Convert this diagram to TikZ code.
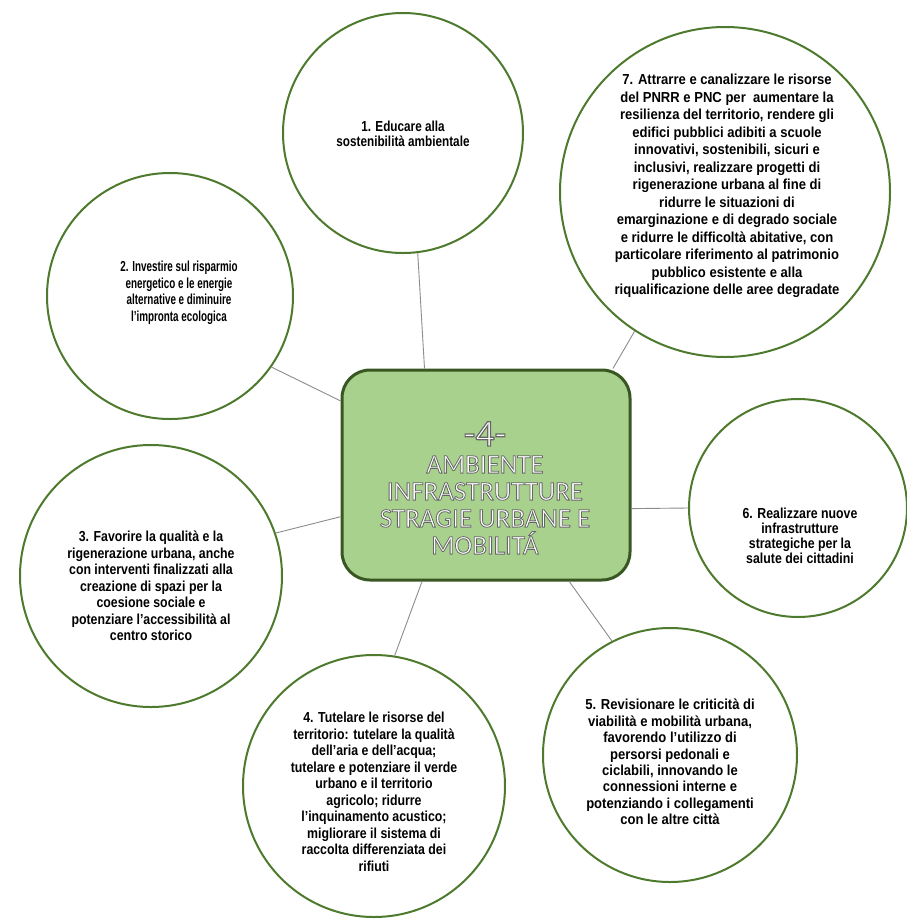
\documentclass[tikz,border=0pt]{standalone}
\usepackage{fontspec}
\setmainfont{Liberation Sans}
\newfontfamily\fontA[FakeStretch=0.68]{Liberation Sans}
\newfontfamily\fontB[FakeStretch=0.81]{Liberation Sans}
\newfontfamily\fontC[FakeStretch=0.85]{Liberation Sans}
\newfontfamily\fontD[FakeStretch=0.9]{Liberation Sans}
\newfontfamily\hubfont[FakeBold=3]{Carlito}
\definecolor{ringgreen}{HTML}{4E7A2E}
\definecolor{hubfill}{HTML}{A9D18E}
\definecolor{hubborder}{HTML}{385723}
\definecolor{linkgrey}{HTML}{8C8C8C}
\newcommand{\hubtxt}[1]{\special{pdf:literal direct 0.40 0.40 0.40 RG}#1}
\tikzset{
  ring/.style={circle, draw=ringgreen, line width=2pt, fill=white, inner sep=0pt},
  ringtext/.style={align=center, text=black, inner sep=0pt},
  link/.style={draw=linkgrey, line width=0.9pt},
  hub/.style={rounded corners=28pt, draw=hubborder, line width=3pt, fill=hubfill,
    minimum width=288pt, minimum height=210pt, inner sep=0pt},
  hubtitle/.style={align=center, text=white, inner sep=0pt,
    font=\hubfont\fontsize{27}{27}\selectfont}
}
\begin{document}
\begin{tikzpicture}[x=1pt,y=-1pt]
\useasboundingbox (0,0) rectangle (906,922);
\fill[white] (0,0) rectangle (906,922);

% circles
\node[ring, minimum size=240pt] (c1) at (403,133) {};
\node[ring, minimum size=246pt] (c2) at (170,296) {};
\node[ring, minimum size=262pt] (c3) at (151,576) {};
\node[ring, minimum size=262pt] (c4) at (374,786) {};
\node[ring, minimum size=254pt] (c5) at (670,755) {};
\node[ring, minimum size=218pt] (c6) at (798,508) {};
\node[ring, minimum size=330pt] (c7) at (725,192) {};

% central box
\node[hub] (hub) at (486,475) {};
\node[hubtitle] (title) at (485,488) {\hubtxt{{\fontsize{38}{33}\selectfont -4-}\\AMBIENTE\\INFRASTRUTTURE\\STRAGIE URBANE E\\MOBILITÁ}};

% connectors
\draw[link] (c1.277) -- (hub.120);
\draw[link] (c2.325) -- (hub.153);
\draw[link] (c3.19) -- (hub.196);
\draw[link] (c4.81) -- (hub.239);
\draw[link] (c5.117) -- (hub.308.7);
\draw[link] (c6.180) -- (hub.347.5);
\draw[link] (c7.237.5) -- (hub.40.3);

% texts
\node[ringtext, font=\fontB\bfseries\fontsize{14.5}{15.5}\selectfont] (t1) at (403,134)
  {1. Educare alla\\sostenibilità ambientale};
\node[ringtext, font=\fontA\bfseries\fontsize{14.5}{16.5}\selectfont] (t2) at (179,293)
  {2. Investire sul risparmio\\energetico e le energie\\alternative e diminuire\\l’impronta ecologica};
\node[ringtext, font=\fontC\bfseries\fontsize{14.5}{16.5}\selectfont] (t3) at (151,586)
  {3. Favorire la qualità e la\\rigenerazione urbana, anche\\con interventi finalizzati alla\\creazione di spazi per la\\coesione sociale e\\potenziare l’accessibilità al\\centro storico};
\node[ringtext, font=\fontC\bfseries\fontsize{14.5}{16.5}\selectfont] (t4) at (374,792)
  {4. Tutelare le risorse del\\territorio: tutelare la qualità\\dell’aria e dell’acqua;\\tutelare e potenziare il verde\\urbano e il territorio\\agricolo; ridurre\\l’inquinamento acustico;\\migliorare il sistema di\\raccolta differenziata dei\\rifiuti};
\node[ringtext, font=\fontD\bfseries\fontsize{14.5}{16.4}\selectfont] (t5) at (670,762)
  {5. Revisionare le criticità di\\viabilità e mobilità urbana,\\favorendo l’utilizzo di\\persorsi pedonali e\\ciclabili, innovando le\\connessioni interne e\\potenziando i collegamenti\\con le altre città};
\node[ringtext, font=\fontC\bfseries\fontsize{14.5}{15}\selectfont] (t6) at (800,536)
  {6. Realizzare nuove\\infrastrutture\\strategiche per la\\salute dei cittadini};
\node[ringtext, font=\fontD\bfseries\fontsize{14.5}{17.5}\selectfont] (t7) at (727,186)
  {7. Attrarre e canalizzare le risorse\\del PNRR e PNC per \ aumentare la\\resilienza del territorio, rendere gli\\edifici pubblici adibiti a scuole\\innovativi, sostenibili, sicuri e\\inclusivi, realizzare progetti di\\rigenerazione urbana al fine di\\ridurre le situazioni di\\emarginazione e di degrado sociale\\e ridurre le difficoltà abitative, con\\particolare riferimento al patrimonio\\pubblico esistente e alla\\riqualificazione delle aree degradate};
\end{tikzpicture}
\end{document}
